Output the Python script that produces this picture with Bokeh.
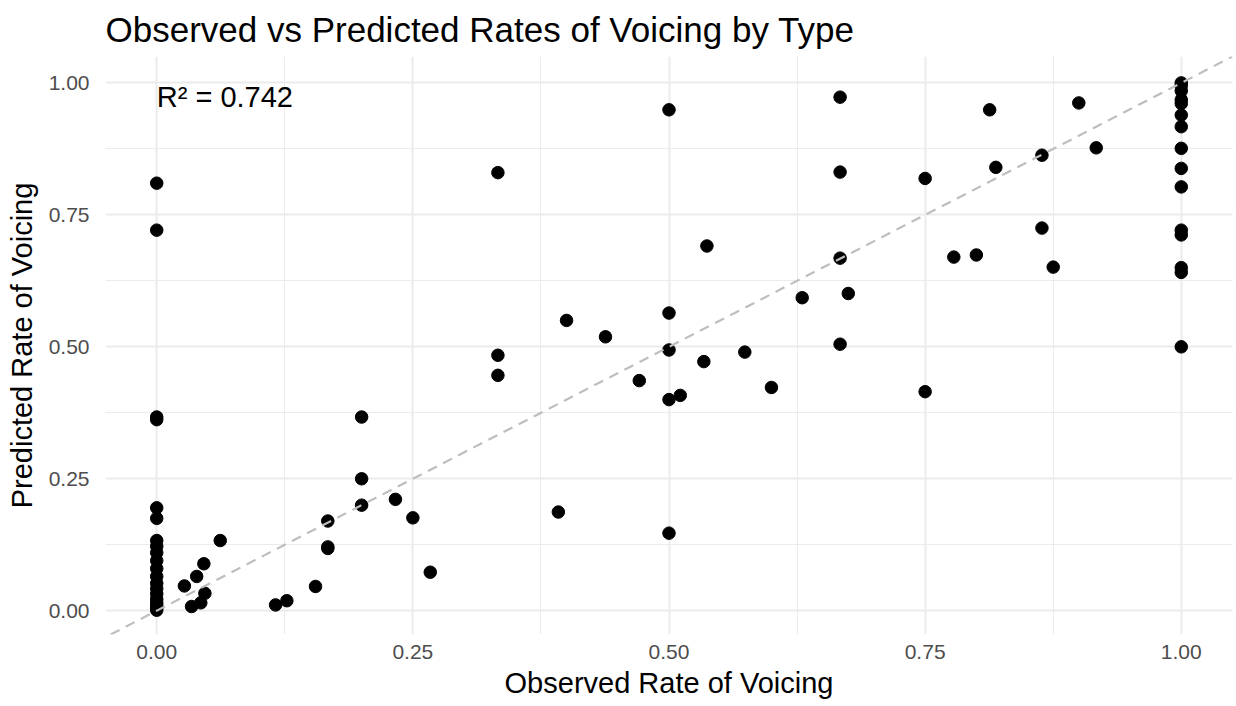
from bokeh.plotting import figure
from bokeh.models import Slope, NumeralTickFormatter, FixedTicker, Label
from bokeh.embed import file_html
from bokeh.resources import INLINE

FONT = "Liberation Sans"

# Observed vs predicted voicing rate, one entry per type
observed = [
    0.0, 0.0, 0.0, 0.0, 0.0, 0.0, 0.0, 0.0, 0.0, 0.0, 0.0, 0.0, 0.0, 0.0,
    0.0, 0.0, 0.0, 0.0, 0.0, 0.0,
    0.062, 0.046, 0.039, 0.027, 0.047, 0.043, 0.034,
    0.116, 0.127, 0.155, 0.167, 0.167, 0.167,
    0.2, 0.2, 0.2, 0.233, 0.25, 0.267,
    0.333, 0.333, 0.333, 0.392, 0.4, 0.438, 0.471,
    0.5, 0.5, 0.5, 0.5, 0.5, 0.511, 0.537, 0.534, 0.574, 0.6, 0.63,
    0.667, 0.667, 0.667, 0.667, 0.675,
    0.75, 0.75, 0.778, 0.8, 0.813, 0.819, 0.864, 0.864, 0.875, 0.9, 0.917,
    1.0, 1.0, 1.0, 1.0, 1.0, 1.0, 1.0, 1.0, 1.0, 1.0, 1.0, 1.0, 1.0, 1.0, 1.0,
]
predicted = [
    0.810, 0.721, 0.367, 0.362, 0.195, 0.175, 0.133, 0.122, 0.110, 0.095,
    0.080, 0.065, 0.052, 0.042, 0.032, 0.022, 0.015, 0.010, 0.005, 0.001,
    0.133, 0.089, 0.065, 0.047, 0.033, 0.015, 0.008,
    0.011, 0.019, 0.046, 0.170, 0.121, 0.118,
    0.367, 0.250, 0.200, 0.211, 0.176, 0.073,
    0.830, 0.484, 0.446, 0.187, 0.550, 0.519, 0.436,
    0.949, 0.564, 0.494, 0.400, 0.147, 0.408, 0.691, 0.472, 0.490, 0.423, 0.593,
    0.973, 0.831, 0.668, 0.505, 0.601,
    0.819, 0.415, 0.670, 0.674, 0.949, 0.840, 0.863, 0.725, 0.651, 0.962, 0.877,
    1.000, 0.995, 0.985, 0.968, 0.961, 0.939, 0.917, 0.876, 0.838, 0.803,
    0.721, 0.712, 0.650, 0.641, 0.500,
]
tick_values = [0.0, 0.25, 0.5, 0.75, 1.0]
minor_values = [0.125, 0.375, 0.625, 0.875]
r_squared_text = "R² = 0.742"

p = figure(
    width=1236, height=706,
    x_range=(-0.05, 1.05), y_range=(-0.045, 1.05),
    output_backend="svg", toolbar_location=None,
    title="Observed vs Predicted Rates of Voicing by Type",
    min_border_left=105, min_border_right=4, min_border_bottom=72, min_border_top=6,
)
p.outline_line_color = None
p.background_fill_color = "white"
p.border_fill_color = "white"

p.title.text_font = FONT
p.title.text_font_size = "35px"
p.title.text_font_style = "normal"
p.title.text_color = "black"
p.title.offset = 0
p.title.standoff = 15

for ax in (p.xaxis[0], p.yaxis[0]):
    ax.ticker = FixedTicker(ticks=tick_values, minor_ticks=minor_values)
    ax.formatter = NumeralTickFormatter(format="0.00")
    ax.axis_line_color = None
    ax.major_tick_line_color = None
    ax.minor_tick_line_color = None
    ax.major_label_text_font = FONT
    ax.major_label_text_font_size = "21px"
    ax.major_label_text_color = "#4d4d4d"
    ax.axis_label_text_font = FONT
    ax.axis_label_text_font_size = "29px"
    ax.axis_label_text_font_style = "normal"
    ax.axis_label_text_color = "black"

p.xaxis.axis_label = "Observed Rate of Voicing"
p.yaxis.axis_label = "Predicted Rate of Voicing"
p.xaxis.major_label_standoff = 4
p.yaxis.major_label_standoff = 10
p.xaxis.axis_label_standoff = 5
p.yaxis.axis_label_standoff = 8

for g in (p.xgrid[0], p.ygrid[0]):
    g.grid_line_color = "#ebebeb"
    g.grid_line_width = 2
    g.minor_grid_line_color = "#ebebeb"
    g.minor_grid_line_width = 1

# identity reference line
p.add_layout(Slope(gradient=1, y_intercept=0, line_color="#bebebe",
                   line_width=2.2, line_dash="10 7"))

p.scatter(observed, predicted, size=12.5, color="black")

p.add_layout(Label(x=0, y=0.973, text=r_squared_text, text_font=FONT,
                   text_font_size="29px", text_color="black",
                   text_baseline="middle", text_align="left"))

open("out.html", "w").write(file_html(p, INLINE))
